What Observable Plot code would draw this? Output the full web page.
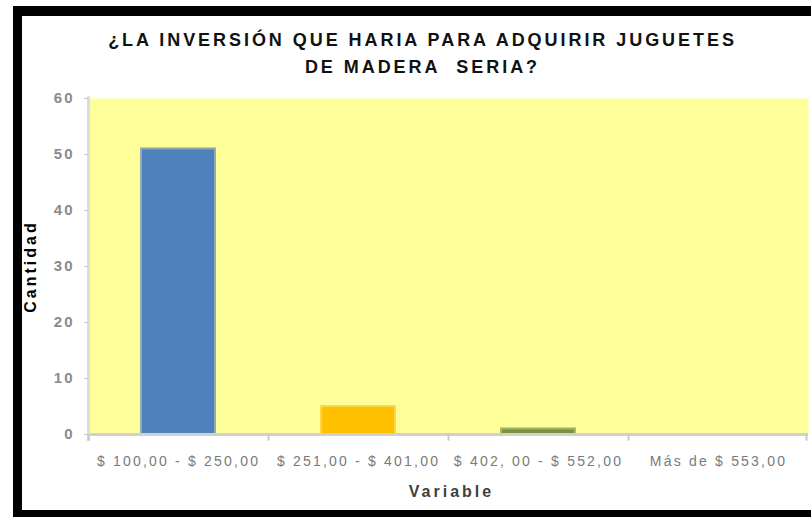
<!DOCTYPE html>
<html>
<head>
<meta charset="utf-8">
<script src="https://cdn.jsdelivr.net/npm/d3@7"></script>
<script src="https://cdn.jsdelivr.net/npm/@observablehq/plot@0.6"></script>
<style>
  html, body { margin: 0; padding: 0; background: #fff; }
  #wrap { position: relative; width: 811px; height: 517px; overflow: hidden; background: #fff; font-family: "Liberation Sans", Arial, sans-serif; }
  #chart { position: absolute; left: 0; top: 0; }
  .title { position: absolute; left: 0; width: 845px; text-align: center; font-weight: bold; font-size: 18px; line-height: 21px; color: #111; letter-spacing: 2.95px; white-space: nowrap; }
  .bar-black { position: absolute; background: #000; }
</style>
</head>
<body>
<div id="wrap">
  <div id="chart"></div>
  <div class="title" style="top:30px;">¿LA INVERSIÓN QUE HARIA PARA ADQUIRIR JUGUETES</div>
  <div class="title" style="top:57px;">DE MADERA&nbsp; SERIA?</div>
  <div class="bar-black" style="left:13px; top:6px; width:798px; height:10px;"></div>
  <div class="bar-black" style="left:13px; top:6px; width:9px; height:511px;"></div>
  <div class="bar-black" style="left:13px; top:510px; width:798px; height:7px;"></div>
</div>
<script>
const categories = ["$ 100,00 - $ 250,00", "$ 251,00 - $ 401,00", "$ 402, 00 - $ 552,00", "Más de $ 553,00"];
const values = [51, 5, 1, 0];
const colors = ["#4f81bd", "#ffc000", "#77933c", "#8064a2"];
const outlines = ["#93aab5", "#ffd54a", "#a8b86a", "#b0a0c8"];
const yTicks = [0, 10, 20, 30, 40, 50, 60];

const data = categories.map((c, i) => ({category: c, value: values[i], color: colors[i], outline: outlines[i]}));

const W = 811, H = 517, mL = 88, mR = 3, mT = 98, mB = 83;
const step = (W - mL - mR) / categories.length;

const chart = Plot.plot({
  width: W,
  height: H,
  marginLeft: mL,
  marginRight: mR,
  marginTop: mT,
  marginBottom: mB,
  style: {background: "transparent", fontFamily: "Liberation Sans, Arial, sans-serif"},
  x: {domain: categories, paddingInner: 0.58, paddingOuter: 0.29, label: null},
  y: {domain: [0, 60], label: null},
  marks: [
    Plot.frame({fill: "#ffff99", stroke: null}),
    Plot.barY(data, {x: "category", y: "value", fill: "color", stroke: "outline", strokeWidth: 2, insetLeft: 1, insetRight: 1}),
    Plot.ruleY([0], {stroke: "#d0d0d0", strokeWidth: 3}),
    Plot.ruleX([categories[0]], {x: d => d, dx: -step / 2, y1: -1.2, y2: 60.3, stroke: "#dcdcdc", strokeWidth: 3}),
    Plot.ruleX(categories, {x: d => d, dx: -step / 2, y1: 0, y2: -1.2, stroke: "#c8c8c8", strokeWidth: 2}),
    Plot.ruleX([categories[categories.length - 1]], {x: d => d, dx: step / 2 - 2, y1: 0, y2: -1.2, stroke: "#c8c8c8", strokeWidth: 2}),
    Plot.axisY({ticks: yTicks, tickSize: 4, tickPadding: 10, stroke: "#c8c8c8", fill: "#8a8a8a", fontSize: 15, fontWeight: "bold", label: null}),
    Plot.axisX({tickSize: 0, tickPadding: 22, fill: "#7a7a7a", fontSize: 14, label: null}),
    Plot.text(["Cantidad"], {frameAnchor: "left", textAnchor: "middle", dx: -58, rotate: -90, fontWeight: "bold", fontSize: 16, fill: "#000"}),
    Plot.text(["Variable"], {frameAnchor: "bottom", dy: 62, dx: 3, fontWeight: "bold", fontSize: 16, fill: "#404040"})
  ]
});
document.getElementById("chart").appendChild(chart);
// stretch labels horizontally like the reference
d3.select(chart).selectAll("[aria-label='x-axis tick label'] text").style("letter-spacing", "2.2px");
d3.select(chart).selectAll("[aria-label='y-axis tick label'] text").style("letter-spacing", "2px");
d3.select(chart).selectAll("[aria-label='text'] text").style("letter-spacing", "3px");
</script>
</body>
</html>
